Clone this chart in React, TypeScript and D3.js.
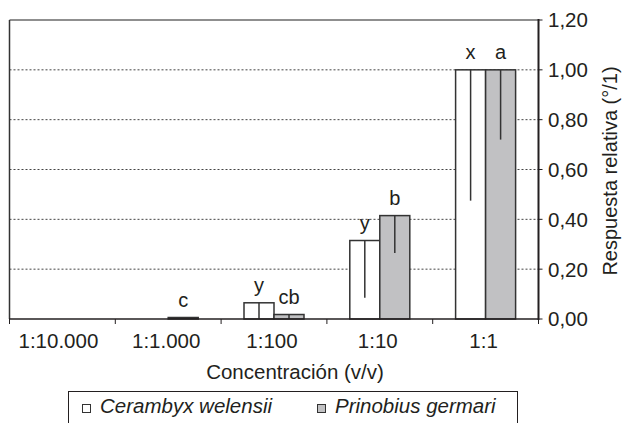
import React from "react";
import * as d3 from "d3";

// Data
const categories = ["1:10.000", "1:1.000", "1:100", "1:10", "1:1"];
const seriesNames = ["Cerambyx welensii", "Prinobius germari"];
const cerambyx = [0, 0, 0.065, 0.315, 1.0];
const prinobius = [0, 0.006, 0.018, 0.415, 1.0];
// lower end of the (downward only) error bars
const cerambyxLow = [null, null, 0, 0.085, 0.475];
const prinobiusLow = [null, null, 0, 0.265, 0.72];
// significance letters above bars
const cerambyxLetters = ["", "", "y", "y", "x"];
const prinobiusLetters = ["", "c", "cb", "b", "a"];
const yTicks = [0, 0.2, 0.4, 0.6, 0.8, 1.0, 1.2];

const W = 622, H = 423;
const left = 9.5, right = 538.5, top = 20, bottom = 319;
const ink = "#231f20";
const font = "'Liberation Sans', Arial, Helvetica, sans-serif";
const fills = ["#ffffff", "#c1c1c3"];
const fs = 20.5;

const App = () => {
  const x = d3.scaleBand().domain(categories).range([left, right]).padding(0);
  const xs = d3.scaleBand().domain(seriesNames).range([-30, 30]).padding(0);
  const y = d3.scaleLinear().domain([0, 1.2]).range([bottom, top]);

  const series = [
    { name: seriesNames[0], values: cerambyx, low: cerambyxLow, letters: cerambyxLetters, fill: fills[0] },
    { name: seriesNames[1], values: prinobius, low: prinobiusLow, letters: prinobiusLetters, fill: fills[1] },
  ];

  const fmt = (d) => d3.format(".2f")(d).replace(".", ",");
  const boundaries = categories.map((c) => x(c)).concat([right]);

  return (
    <svg width={W} height={H} style={{ position: "absolute", left: 0, top: 0, display: "block" }}
      fontFamily={font}>
      <rect x={0} y={0} width={W} height={H} fill="#fff" />

      {/* dotted gridlines */}
      {yTicks.filter((t) => t > 0 && t < 1.2).map((t) => (
        <line key={t} x1={left} x2={right} y1={y(t)} y2={y(t)}
          stroke="#444" strokeWidth={1} strokeDasharray="2,2" />
      ))}
      {/* top border */}
      <line x1={left} x2={right} y1={y(1.2)} y2={y(1.2)} stroke="#6a6a6a" strokeWidth={1.5} />
      {/* left border */}
      <line x1={left} x2={left} y1={top} y2={bottom} stroke="#333" strokeWidth={1.5} />

      {/* bars */}
      {series.map((s) =>
        categories.map((c, i) => {
          const v = s.values[i];
          if (!v) return null;
          const bx = x(c) + x.bandwidth() / 2 + xs(s.name);
          return (
            <rect key={s.name + c} x={bx} y={y(v)} width={xs.bandwidth()} height={y(0) - y(v)}
              fill={s.fill} stroke="#333" strokeWidth={1.5} />
          );
        })
      )}

      {/* error bars */}
      {series.map((s) =>
        categories.map((c, i) => {
          const lo = s.low[i];
          if (lo === null) return null;
          const cx = x(c) + x.bandwidth() / 2 + xs(s.name) + xs.bandwidth() / 2;
          return (
            <line key={"e" + s.name + c} x1={cx} x2={cx} y1={y(s.values[i])} y2={y(lo)}
              stroke="#333" strokeWidth={1.5} />
          );
        })
      )}

      {/* letters */}
      {series.map((s) =>
        categories.map((c, i) => {
          const l = s.letters[i];
          if (!l) return null;
          const cx = x(c) + x.bandwidth() / 2 + xs(s.name) + xs.bandwidth() / 2;
          return (
            <text key={"l" + s.name + c} x={cx} y={y(s.values[i]) - 11} textAnchor="middle"
              fontSize={20} fill={ink}>{l}</text>
          );
        })
      )}

      {/* bottom axis */}
      <line x1={left - 0.5} x2={right + 0.5} y1={bottom} y2={bottom} stroke={ink} strokeWidth={1.5} />
      {boundaries.map((b, i) => (
        <line key={"t" + i} x1={b} x2={b} y1={bottom} y2={bottom + 5} stroke={ink} strokeWidth={1} />
      ))}
      {categories.map((c) => (
        <text key={"c" + c} x={x(c) + x.bandwidth() / 2 - (c === "1:10.000" ? 4 : 2)} y={348}
          textAnchor="middle" fontSize={fs} fill={ink}>{c}</text>
      ))}
      <text x={295} y={379} textAnchor="middle" fontSize={fs} fill={ink}>Concentración (v/v)</text>

      {/* right axis */}
      <line x1={right} x2={right} y1={top - 1} y2={bottom + 1} stroke={ink} strokeWidth={2} />
      {yTicks.map((t) => (
        <g key={"y" + t}>
          <line x1={right} x2={right + 4} y1={y(t)} y2={y(t)} stroke={ink} strokeWidth={1} />
          <text x={548} y={y(t)} dy="0.36em" fontSize={fs} fill={ink}>{fmt(t)}</text>
        </g>
      ))}
      <text transform={`translate(617, 171) rotate(-90)`} textAnchor="middle" fontSize={20} fill={ink}>
        Respuesta relativa (°/1)
      </text>

      {/* legend */}
      <rect x={68.5} y={391.5} width={449} height={60} fill="none" stroke={ink} strokeWidth={1} />
      {series.map((s, i) => {
        const lx = i === 0 ? 82 : 317;
        return (
          <g key={"leg" + s.name}>
            <rect x={lx + 0.5} y={404.5} width={8} height={8} fill={s.fill} stroke="#333" strokeWidth={1} />
            <text x={lx + 18} y={413} fontSize={fs} fontStyle="italic" fill={ink}>{s.name}</text>
          </g>
        );
      })}
    </svg>
  );
};

export default App;
